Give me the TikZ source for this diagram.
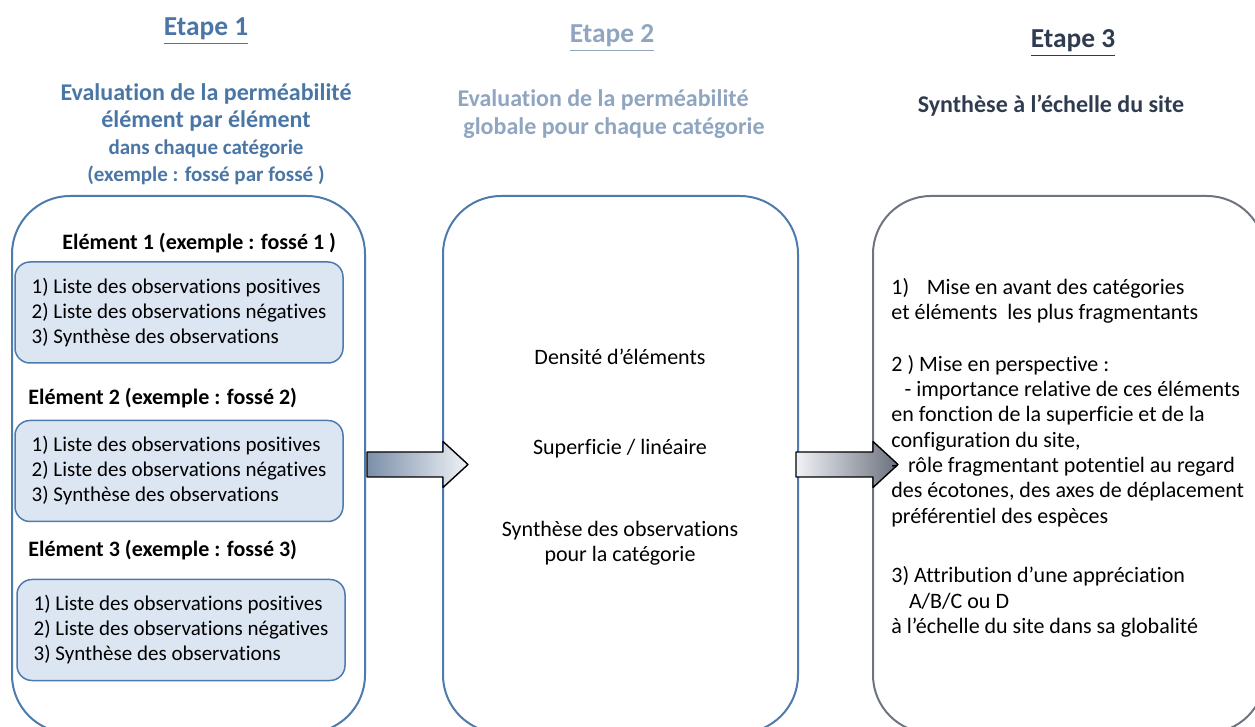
\documentclass[tikz,border=0pt]{standalone}
\usepackage{fontspec}
\setmainfont{Carlito}[Ligatures=CommonOff]
\usetikzlibrary{calc}

\definecolor{etapeone}{HTML}{4A76A6}
\definecolor{etapetwo}{HTML}{8FA5C0}
\definecolor{etapethree}{HTML}{2F3B4E}
\definecolor{boxblue}{HTML}{4E7BAD}
\definecolor{boxgrey}{HTML}{6F7580}
\definecolor{listfill}{HTML}{DCE6F2}
\definecolor{arrowdark}{HTML}{7B8FA9}
\definecolor{arrowlight}{HTML}{F0F2F6}
\definecolor{arrowgrey}{HTML}{6A707C}

\begin{document}
\begin{tikzpicture}[x=0.5pt,y=-0.5pt,line join=round,
  bigbox/.style={draw=boxblue,line width=1pt,rounded corners=29pt,minimum height=268.5pt,outer sep=0pt,inner sep=0pt},
  listbox/.style={draw=boxblue,fill=listfill,line width=0.75pt,rounded corners=7.5pt,minimum width=164pt,minimum height=50.5pt,align=left,font=\fontsize{10.5}{12.5}\selectfont},
  elemlabel/.style={anchor=base west,inner sep=0pt,font=\fontsize{11}{13}\selectfont\bfseries},
  title/.style={anchor=base,inner sep=0pt,font=\fontsize{13.7}{16}\selectfont\bfseries},
  subtitle/.style={anchor=base,inner sep=0pt,font=\fontsize{12}{14}\selectfont\bfseries},
  smallsub/.style={anchor=base,inner sep=0pt,font=\fontsize{10.5}{12.5}\selectfont\bfseries},
  bodytext/.style={inner sep=0pt,align=left,font=\fontsize{11}{12.65}\selectfont}]

\clip (0,0) rectangle (1255,727);

% titles
\node[title,text=etapeone]   (t1) at (206,36)  {\underline{Etape 1}};
\node[title,text=etapetwo]   (t2) at (612,43)  {\underline{Etape 2}};
\node[title,text=etapethree] (t3) at (1073,48) {\underline{Etape 3}};

\node[subtitle,text=etapeone] (s1a) at (206,101) {Evaluation de la perméabilité};
\node[subtitle,text=etapeone] (s1b) at (206,128) {élément par élément};
\node[smallsub,text=etapeone] (s1c) at (206,155) {dans chaque catégorie};
\node[smallsub,text=etapeone] (s1d) at (206,182) {(exemple : fossé par fossé )};

\node[subtitle,text=etapetwo] (s2a) at (603,107) {Evaluation de la perméabilité};
\node[subtitle,text=etapetwo] (s2b) at (614,135) {globale pour chaque catégorie};

\node[subtitle,text=etapethree] (s3) at (1051,113) {Synthèse à l’échelle du site};

% big boxes
\node[bigbox,minimum width=176.5pt] (etape1box) at (188.5,464.5) {};
\node[bigbox,minimum width=177.5pt] (etape2box) at (620.5,464.5) {};
\node[bigbox,draw=boxgrey,minimum width=196pt] (etape3box) at (1069,464.5) {};

% block arrows
\shade[left color=arrowdark,right color=arrowlight,draw=black,line width=0.7pt]
  ($(etape1box.east)+(2,-12.5)$) -- ($(etape2box.west)+(0,-12.5)$) -- ($(etape2box.west)+(0,-23)$)
  -- ($(etape2box.west)+(25,0)$) -- ($(etape2box.west)+(0,23)$) -- ($(etape2box.west)+(0,12.5)$)
  -- ($(etape1box.east)+(2,12.5)$) -- cycle;
\shade[left color=arrowlight,right color=arrowgrey,draw=black,line width=0.7pt]
  ($(etape2box.east)+(-2,-12.5)$) -- ($(etape3box.west)+(0,-12.5)$) -- ($(etape3box.west)+(0,-23)$)
  -- ($(etape3box.west)+(25,0)$) -- ($(etape3box.west)+(0,23)$) -- ($(etape3box.west)+(0,12.5)$)
  -- ($(etape2box.east)+(-2,12.5)$) -- cycle;

% step 1: elements
\node[elemlabel] (elem1) at (62,250) {Elément 1 (exemple : fossé 1 )};
\node[listbox] (list1) at (179,312.5) {1) Liste des observations positives\\2) Liste des observations négatives\\3) Synthèse des observations};

\node[elemlabel] (elem2) at (28,405) {Elément 2 (exemple : fossé 2)};
\node[listbox] (list2) at (179,471) {1) Liste des observations positives\\2) Liste des observations négatives\\3) Synthèse des observations};

\node[elemlabel] (elem3) at (28,557) {Elément 3 (exemple : fossé 3)};
\node[listbox] (list3) at (181,630) {1) Liste des observations positives\\2) Liste des observations négatives\\3) Synthèse des observations};

% step 2
\node[bodytext,align=center] (dens) at (620,357) {Densité d’éléments};
\node[bodytext,align=center] (surf) at (620,449) {Superficie / linéaire};
\node[bodytext,align=center] (synt) at (620,543.5) {Synthèse des observations\\pour la catégorie};

% step 3
\node[bodytext,anchor=west] (para1) at (891,301) {1)\hspace{0.8em}Mise en avant des catégories\\et éléments\ \ les plus fragmentants};
\node[bodytext,anchor=west] (para2) at (891,441) {2 ) Mise en perspective :\\\hspace*{0.6em}- importance relative de ces éléments\\en fonction de la superficie et de la\\configuration du site,\\-\ \ rôle fragmentant potentiel au regard\\des écotones, des axes de déplacement\\préférentiel des espèces};
\node[bodytext,anchor=west] (para3) at (891,602) {3) Attribution d’une appréciation\\\hspace*{0.8em}A/B/C ou D\\à l’échelle du site dans sa globalité};

\end{tikzpicture}
\end{document}
